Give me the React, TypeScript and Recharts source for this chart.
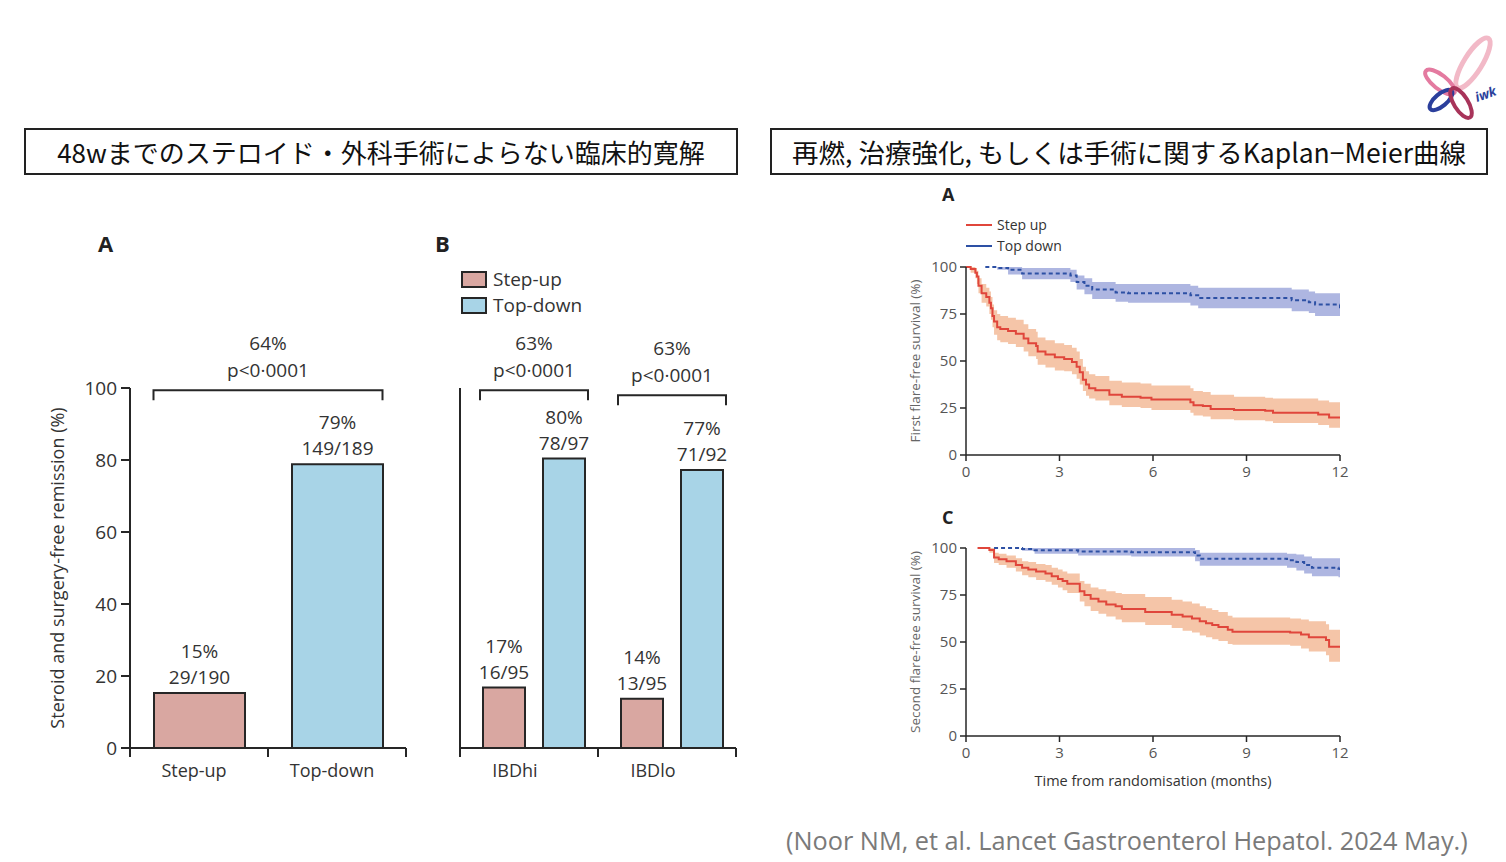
import React from 'react';
import {
  BarChart,
  Bar,
  Cell,
  XAxis,
  YAxis,
  ReferenceLine,
  LabelList,
  Legend,
  ComposedChart,
  Area,
  Line,
} from 'recharts';

const FONT = '"Open Sans", "Noto Sans", sans-serif';
const CJK = '"Noto Sans CJK JP", "Noto Sans CJK SC", sans-serif';

// ---------- Titles ----------
const leftTitle = '48wまでのステロイド・外科手術によらない臨床的寛解';
const rightTitle = '再燃, 治療強化, もしくは手術に関するKaplan−Meier曲線';
const citation = '(Noor NM, et al. Lancet Gastroenterol Hepatol. 2024 May.)';

// ---------- Panel A (overall) ----------
const overallCategories = ['Step-up', 'Top-down'];
const overallValues = [15.3, 78.8];
const overallPct = ['15%', '79%'];
const overallCounts = ['29/190', '149/189'];
const overallDiff = ['64%', 'p<0·0001'];

// ---------- Panel B (subgroups) ----------
const subgroupCategories = ['IBDhi', 'IBDlo'];
const subgroupStepUp = [16.8, 13.7];
const subgroupTopDown = [80.4, 77.2];
const subgroupStepUpPct = ['17%', '14%'];
const subgroupStepUpCounts = ['16/95', '13/95'];
const subgroupTopDownPct = ['80%', '77%'];
const subgroupTopDownCounts = ['78/97', '71/92'];
const subgroupDiffHi = ['63%', 'p<0·0001'];
const subgroupDiffLo = ['63%', 'p<0·0001'];

const armNames = ['Step-up', 'Top-down'];
const barYTicks = [0, 20, 40, 60, 80, 100];

// ---------- Kaplan-Meier [time (months), survival %, lower CI, upper CI] ----------
type KMPoint = [number, number, number, number];

const firstFlareStepUp: KMPoint[] = [
  [0, 100, 100, 100],
  [0.15, 99, 97, 100],
  [0.3, 97, 94, 99.5],
  [0.35, 95, 91, 98],
  [0.4, 90, 86, 94],
  [0.5, 86, 81, 91],
  [0.65, 84, 79, 89],
  [0.75, 81, 75, 87],
  [0.8, 78, 72, 84],
  [0.85, 74, 68, 80],
  [0.9, 71, 64, 77],
  [1.0, 68, 61, 75],
  [1.1, 67, 60, 74],
  [1.35, 66, 59, 73],
  [1.6, 64.5, 57.5, 72],
  [1.85, 62, 55, 69.5],
  [2.0, 59.5, 52.5, 67],
  [2.25, 58, 51, 65.5],
  [2.3, 55, 48, 62.5],
  [2.55, 53.5, 46.5, 61],
  [2.85, 52, 45, 59.5],
  [3.15, 51, 44.5, 58.5],
  [3.4, 49.5, 43, 57],
  [3.55, 47, 40.5, 55],
  [3.65, 44, 37.5, 51],
  [3.75, 40, 34, 47],
  [3.85, 37.5, 31.5, 44.5],
  [3.95, 35.5, 30, 43],
  [4.15, 34.5, 29, 42],
  [4.6, 32, 26.5, 39.5],
  [5.0, 31, 25.5, 38.5],
  [5.6, 30.5, 25, 38],
  [5.95, 29.5, 24, 37],
  [7.2, 28, 22.5, 35.5],
  [7.3, 26.5, 21, 34],
  [7.6, 26, 20.5, 33.5],
  [7.85, 24.5, 19, 32],
  [8.6, 24, 18.5, 31],
  [9.6, 23.5, 18, 30.5],
  [9.85, 22.5, 17, 30],
  [11.3, 21.5, 16, 29],
  [11.65, 20, 14.5, 28],
  [12, 20, 14.5, 28],
];

const firstFlareTopDown: KMPoint[] = [
  [0.62, 100, 100, 100],
  [1.0, 99.5, 98.5, 100],
  [1.35, 98.5, 96, 100],
  [1.8, 96.5, 93.5, 99.5],
  [3.35, 95.5, 92, 98.5],
  [3.55, 92, 88, 95.5],
  [3.8, 90, 85.5, 94],
  [4.05, 88, 83, 92],
  [4.8, 86.5, 81.5, 91],
  [5.2, 86, 81, 91],
  [7.2, 85, 79.5, 90],
  [7.45, 83.5, 78, 89],
  [10.45, 82.3, 76.5, 88],
  [11.0, 81.3, 75.5, 87],
  [11.2, 80, 74, 86],
  [12, 77, 68, 86],
];

const secondFlareStepUp: KMPoint[] = [
  [0.37, 100, 100, 100],
  [0.75, 99, 97.5, 100],
  [0.9, 95, 92, 97.5],
  [1.05, 94, 91, 97],
  [1.3, 93, 89.5, 96],
  [1.6, 91, 87.5, 94.5],
  [1.8, 89.5, 85.5, 93],
  [2.0, 88.5, 84.5, 92.5],
  [2.25, 87.5, 83, 91.5],
  [2.55, 86.5, 82, 91],
  [2.75, 85, 80.5, 89.5],
  [2.95, 83.5, 79, 88.5],
  [3.1, 82.5, 77.5, 87.5],
  [3.25, 81, 76, 86.5],
  [3.65, 77, 71.5, 82.5],
  [3.8, 75, 69, 81],
  [4.0, 73, 66.5, 79],
  [4.25, 71.5, 65, 78],
  [4.5, 70, 63.5, 77],
  [4.8, 69, 62, 76],
  [5.0, 67.5, 60.5, 75.5],
  [5.75, 66, 59, 74],
  [6.6, 64.5, 57.5, 72.5],
  [6.95, 63.5, 56, 71.5],
  [7.25, 62.5, 55, 70.5],
  [7.5, 61, 53.5, 69],
  [7.7, 60, 52.5, 68],
  [7.9, 59, 51.5, 67],
  [8.1, 58, 50.5, 66],
  [8.4, 56.5, 49, 64],
  [8.55, 55.5, 48.5, 63],
  [10.4, 55, 48, 62.5],
  [10.75, 54, 46.5, 62],
  [11.0, 52.5, 45, 61],
  [11.55, 51, 43, 59.5],
  [11.65, 47.5, 39.5, 56.5],
  [12, 47.5, 39.5, 56.5],
];

const secondFlareTopDown: KMPoint[] = [
  [0.9, 100, 100, 100],
  [1.8, 99.5, 98.5, 100],
  [2.2, 98.8, 97, 100],
  [3.6, 98.2, 96, 100],
  [5.3, 97.8, 95.5, 100],
  [7.35, 96, 93, 99],
  [7.5, 94.3, 90.5, 97.5],
  [10.3, 93.5, 89.5, 97],
  [10.6, 92.5, 88, 96.5],
  [10.85, 91, 86.5, 95.5],
  [11.1, 89.5, 85, 94.5],
  [11.95, 89, 84.5, 94.5],
  [12, 87.5, 79, 94.5],
];

const kmSeriesNames = ['Step up', 'Top down'];
const kmXTicks = [0, 3, 6, 9, 12];
const kmYTicks = [0, 25, 50, 75, 100];

// ---------- styles ----------
const PINK = '#d9a7a1';
const BLUE = '#a8d4e7';
const AXIS = '#262626';
const TEXT = '#333333';
const KM_RED = '#e0463b';
const KM_RED_BAND = '#f5c5a8';
const KM_BLUE = '#2d50a4';
const KM_BLUE_BAND = '#aeb6e1';

const A_BAR = 91;
const B_BAR = 42;
const B_GAP = 18;

const toRows = (pts: KMPoint[]) => pts.map(([t, s, lo, hi]) => ({ t, s, band: [lo, hi] }));

const rotatedTitle =
  (text: string, dx: number, size: number, color: string) => (props: any) => {
    const vb = props.viewBox || { x: 0, y: 0, width: 0, height: 0 };
    const cx = vb.x + dx;
    const cy = vb.y + vb.height / 2;
    return (
      <text
        x={cx}
        y={cy}
        transform={`rotate(-90 ${cx} ${cy})`}
        textAnchor="middle"
        dominantBaseline="central"
        fontSize={size}
        fill={color}
        fontFamily={FONT}
      >
        {text}
      </text>
    );
  };

// bracket drawn between two category centres, extended outward by `extend` px
const bracketShape = (lines: string[], extend: number) => (props: any) => {
  const xa = Math.min(props.x1, props.x2) - extend;
  const xb = Math.max(props.x1, props.x2) + extend;
  const y = props.y1;
  const cx = (xa + xb) / 2;
  return (
    <g>
      <path
        d={`M${xa},${y + 10} L${xa},${y} L${xb},${y} L${xb},${y + 10}`}
        fill="none"
        stroke={AXIS}
        strokeWidth={2}
      />
      <text x={cx} y={y - 47} textAnchor="middle" dominantBaseline="central" fontSize={19} fill={TEXT} fontFamily={FONT}>
        {lines[0]}
      </text>
      <text x={cx} y={y - 20} textAnchor="middle" dominantBaseline="central" fontSize={19} fill={TEXT} fontFamily={FONT}>
        {lines[1]}
      </text>
    </g>
  );
};

// tick marks at the two ends and middle of the x axis (category boundaries)
const boundaryTicks = (props: any) => {
  const xl = Math.min(props.x1, props.x2);
  const xr = Math.max(props.x1, props.x2);
  const y = props.y1;
  return (
    <g>
      {[xl, (xl + xr) / 2, xr].map((x, i) => (
        <line key={i} x1={x} x2={x} y1={y} y2={y + 9} stroke={AXIS} strokeWidth={2} />
      ))}
    </g>
  );
};

const barLabels = (pcts: string[], counts: string[]) => (props: any) => {
  const { x, y, width, index } = props;
  const cx = x + width / 2;
  return (
    <g>
      <text x={cx} y={y - 42} textAnchor="middle" dominantBaseline="central" fontSize={19} fill={TEXT} fontFamily={FONT}>
        {pcts[index]}
      </text>
      <text x={cx} y={y - 16} textAnchor="middle" dominantBaseline="central" fontSize={19} fill={TEXT} fontFamily={FONT}>
        {counts[index]}
      </text>
    </g>
  );
};

const barTickA = { fontSize: 18, fill: TEXT, fontFamily: FONT, dx: -5 };
const barTickB = { fontSize: 18, fill: TEXT, fontFamily: FONT, dx: -19 };
const barYTick = { fontSize: 19, fill: TEXT, fontFamily: FONT };

function PanelA() {
  const data = overallCategories.map((name, i) => ({ name, value: overallValues[i] }));
  const colors = [PINK, BLUE];
  return (
    <BarChart width={400} height={500} data={data} margin={{ top: 88, right: 24, bottom: 22, left: 40 }}>
      <XAxis
        dataKey="name"
        tickLine={false}
        axisLine={{ stroke: AXIS, strokeWidth: 2 }}
        tick={barTickA}
        tickMargin={10}
        height={30}
      />
      <YAxis
        domain={[0, 100]}
        ticks={barYTicks}
        width={60}
        tickSize={9}
        tickMargin={4}
        tick={barYTick}
        axisLine={{ stroke: AXIS, strokeWidth: 2 }}
        tickLine={{ stroke: AXIS, strokeWidth: 2 }}
        label={rotatedTitle('Steroid and surgery-free remission (%)', -13, 18, TEXT)}
      />
      <ReferenceLine y={0} ifOverflow="visible" shape={boundaryTicks} />
      <ReferenceLine
        ifOverflow="visible"
        segment={[
          { x: overallCategories[0], y: 99.4 },
          { x: overallCategories[1], y: 99.4 },
        ]}
        shape={bracketShape(overallDiff, A_BAR / 2)}
      />
      <Bar dataKey="value" barSize={A_BAR} stroke={AXIS} strokeWidth={2} isAnimationActive={false}>
        {data.map((d, i) => (
          <Cell key={d.name} fill={colors[i]} />
        ))}
        <LabelList dataKey="value" content={barLabels(overallPct, overallCounts)} />
      </Bar>
    </BarChart>
  );
}

const BarLegend = () => (
  <div style={{ fontFamily: FONT, fontSize: 19, color: TEXT }}>
    {armNames.map((n, i) => (
      <div key={n} style={{ display: 'flex', alignItems: 'center', height: 26 }}>
        <span
          style={{
            display: 'inline-block',
            width: 22,
            height: 13,
            border: `2px solid ${AXIS}`,
            background: i === 0 ? PINK : BLUE,
            marginRight: 6,
          }}
        />
        {n}
      </div>
    ))}
  </div>
);

function PanelB() {
  const data = subgroupCategories.map((name, i) => ({
    name,
    stepUp: subgroupStepUp[i],
    topDown: subgroupTopDown[i],
  }));
  const groupHalf = B_BAR + B_GAP / 2 + 3;
  return (
    <BarChart
      width={340}
      height={550}
      data={data}
      margin={{ top: 138, right: 24, bottom: 22, left: 20 }}
      barGap={B_GAP}
    >
      <XAxis
        dataKey="name"
        tickLine={false}
        axisLine={{ stroke: AXIS, strokeWidth: 2 }}
        tick={barTickB}
        tickMargin={10}
        height={30}
        padding={{ left: 5, right: -5 }}
      />
      <YAxis
        domain={[0, 100]}
        ticks={barYTicks}
        width={20}
        tickSize={9}
        tick={false}
        axisLine={{ stroke: AXIS, strokeWidth: 2 }}
        tickLine={{ stroke: AXIS, strokeWidth: 2 }}
      />
      <Legend
        layout="horizontal"
        align="center"
        verticalAlign="middle"
        content={<BarLegend />}
        wrapperStyle={{ position: 'absolute', left: 41, top: 16, width: 200, height: 60 }}
      />
      <ReferenceLine y={0} ifOverflow="visible" shape={boundaryTicks} />
      <ReferenceLine
        ifOverflow="visible"
        segment={[
          { x: subgroupCategories[0], y: 99.4 },
          { x: subgroupCategories[0], y: 99.4 },
        ]}
        shape={bracketShape(subgroupDiffHi, groupHalf)}
      />
      <ReferenceLine
        ifOverflow="visible"
        segment={[
          { x: subgroupCategories[1], y: 98.0 },
          { x: subgroupCategories[1], y: 98.0 },
        ]}
        shape={bracketShape(subgroupDiffLo, groupHalf)}
      />
      <Bar dataKey="stepUp" name="Step-up" barSize={B_BAR} fill={PINK} stroke={AXIS} strokeWidth={2} isAnimationActive={false}>
        <LabelList dataKey="stepUp" content={barLabels(subgroupStepUpPct, subgroupStepUpCounts)} />
      </Bar>
      <Bar dataKey="topDown" name="Top-down" barSize={B_BAR} fill={BLUE} stroke={AXIS} strokeWidth={2} isAnimationActive={false}>
        <LabelList dataKey="topDown" content={barLabels(subgroupTopDownPct, subgroupTopDownCounts)} />
      </Bar>
    </BarChart>
  );
}

const KMLegend = () => (
  <div style={{ fontFamily: FONT, fontSize: 14, color: TEXT, lineHeight: '21px' }}>
    {kmSeriesNames.map((n, i) => (
      <div key={n} style={{ display: 'flex', alignItems: 'center' }}>
        <span
          style={{
            display: 'inline-block',
            width: 26,
            height: 2,
            background: i === 0 ? KM_RED : KM_BLUE,
            marginRight: 5,
          }}
        />
        {n}
      </div>
    ))}
  </div>
);

const kmTick = { fontSize: 15, fill: '#555', fontFamily: FONT };

function KMChart(props: {
  up: KMPoint[];
  down: KMPoint[];
  yTitle: string;
  height: number;
  top: number;
  xTitle?: string;
  legend?: boolean;
}) {
  const up = toRows(props.up);
  const down = toRows(props.down);
  const xAxisH = props.xTitle ? 50 : 25;
  const plotH = 188;
  const bottom = props.height - props.top - plotH - xAxisH;
  return (
    <ComposedChart width={480} height={props.height} margin={{ top: props.top, right: 20, bottom, left: 36 }}>
      <XAxis
        type="number"
        dataKey="t"
        domain={[0, 12]}
        ticks={kmXTicks}
        allowDataOverflow
        height={xAxisH}
        tickSize={6}
        tickMargin={5}
        tick={kmTick}
        axisLine={{ stroke: AXIS, strokeWidth: 1.5 }}
        tickLine={{ stroke: AXIS, strokeWidth: 1.5 }}
        label={
          props.xTitle
            ? (p: any) => {
                const vb = p.viewBox || { x: 0, y: 0, width: 0 };
                return (
                  <text
                    x={vb.x + vb.width / 2}
                    y={vb.y + 44}
                    textAnchor="middle"
                    dominantBaseline="central"
                    fontSize={14.5}
                    fill={TEXT}
                    fontFamily={FONT}
                  >
                    {props.xTitle}
                  </text>
                );
              }
            : undefined
        }
      />
      <YAxis
        type="number"
        domain={[0, 100]}
        ticks={kmYTicks}
        width={50}
        tickSize={6}
        tickMargin={3}
        tick={kmTick}
        axisLine={{ stroke: AXIS, strokeWidth: 1.5 }}
        tickLine={{ stroke: AXIS, strokeWidth: 1.5 }}
        label={rotatedTitle(props.yTitle, -1, 13.5, '#666')}
      />
      {props.legend && (
        <Legend
          layout="horizontal"
          align="center"
          verticalAlign="middle"
          content={<KMLegend />}
          wrapperStyle={{ position: 'absolute', left: 86, top: 34, width: 150, height: 44 }}
        />
      )}
      <Area
        data={up}
        dataKey="band"
        type="stepAfter"
        fill={KM_RED_BAND}
        fillOpacity={1}
        stroke="none"
        isAnimationActive={false}
        legendType="none"
      />
      <Area
        data={down}
        dataKey="band"
        type="stepAfter"
        fill={KM_BLUE_BAND}
        fillOpacity={1}
        stroke="none"
        isAnimationActive={false}
        legendType="none"
      />
      <Line
        data={up}
        dataKey="s"
        name={kmSeriesNames[0]}
        type="stepAfter"
        stroke={KM_RED}
        strokeWidth={2}
        dot={false}
        isAnimationActive={false}
      />
      <Line
        data={down}
        dataKey="s"
        name={kmSeriesNames[1]}
        type="stepAfter"
        stroke={KM_BLUE}
        strokeWidth={2}
        strokeDasharray="4 3"
        dot={false}
        isAnimationActive={false}
      />
    </ComposedChart>
  );
}

const Logo = () => (
  <svg width={95} height={95} viewBox="0 0 95 95">
    <ellipse cx={60} cy={33} rx={29} ry={9} transform="rotate(-58 60 33)" fill="none" stroke="#f2b9c7" strokeWidth={5} />
    <ellipse cx={27} cy={52} rx={18} ry={7} transform="rotate(38 27 52)" fill="none" stroke="#e47aa0" strokeWidth={4} />
    <ellipse cx={28} cy={70} rx={14} ry={6} transform="rotate(-40 28 70)" fill="none" stroke="#2b3f9c" strokeWidth={4} />
    <ellipse cx={48} cy={73} rx={17} ry={7} transform="rotate(58 48 73)" fill="none" stroke="#a8345a" strokeWidth={4} />
    <text x={64} y={72} fontSize={13} fontStyle="italic" fontWeight="bold" fill="#2b3f9c" fontFamily={FONT} transform="rotate(-20 64 72)">
      iwk
    </text>
  </svg>
);

const titleBox: React.CSSProperties = {
  position: 'absolute',
  top: 128,
  height: 47,
  border: '2px solid #222',
  boxSizing: 'border-box',
  display: 'flex',
  alignItems: 'center',
  justifyContent: 'center',
  fontFamily: CJK,
  fontSize: 26,
  color: '#111',
  whiteSpace: 'nowrap',
};

const panelLetter = (size: number): React.CSSProperties => ({
  position: 'absolute',
  fontFamily: FONT,
  fontWeight: 700,
  fontSize: size,
  color: '#222',
  lineHeight: 1,
});

export default function App() {
  return (
    <div
      style={{
        position: 'absolute',
        left: 0,
        top: 0,
        width: 1506,
        height: 862,
        background: '#fff',
        overflow: 'hidden',
      }}
    >
      <div style={{ ...titleBox, left: 24, width: 714 }}>{leftTitle}</div>
      <div style={{ ...titleBox, left: 770, width: 718, fontSize: 26.5 }}>{rightTitle}</div>
      <div style={{ position: 'absolute', left: 1413, top: 30 }}>
        <Logo />
      </div>

      <div style={{ ...panelLetter(22), left: 98, top: 232 }}>A</div>
      <div style={{ ...panelLetter(22), left: 435, top: 232 }}>B</div>
      <div style={{ ...panelLetter(18), left: 942, top: 185 }}>A</div>
      <div style={{ ...panelLetter(18), left: 942, top: 508 }}>C</div>

      <div style={{ position: 'absolute', left: 30, top: 300 }}>
        <PanelA />
      </div>
      <div style={{ position: 'absolute', left: 420, top: 250 }}>
        <PanelB />
      </div>
      <div style={{ position: 'absolute', left: 880, top: 180 }}>
        <KMChart up={firstFlareStepUp} down={firstFlareTopDown} yTitle="First flare-free survival (%)" height={305} top={87} legend />
      </div>
      <div style={{ position: 'absolute', left: 880, top: 500 }}>
        <KMChart
          up={secondFlareStepUp}
          down={secondFlareTopDown}
          yTitle="Second flare-free survival (%)"
          height={300}
          top={48}
          xTitle="Time from randomisation (months)"
        />
      </div>

      <div
        style={{
          position: 'absolute',
          left: 786,
          top: 822,
          fontFamily: FONT,
          fontSize: 25.3,
          color: '#7a7a7a',
          whiteSpace: 'nowrap',
          lineHeight: '36px',
        }}
      >
        {citation}
      </div>
    </div>
  );
}
